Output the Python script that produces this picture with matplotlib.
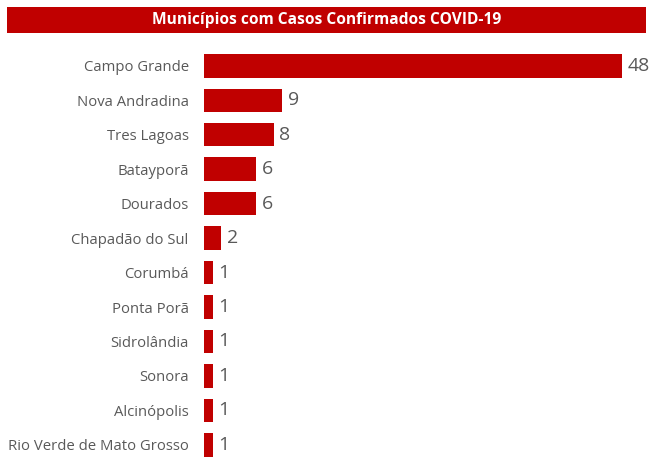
import matplotlib.pyplot as plt
from matplotlib.patches import Rectangle

municipios = ["Campo Grande", "Nova Andradina", "Tres Lagoas", "Batayporã", "Dourados",
              "Chapadão do Sul", "Corumbá", "Ponta Porã", "Sidrolândia", "Sonora",
              "Alcinópolis", "Rio Verde de Mato Grosso"]
casos = [48, 9, 8, 6, 6, 2, 1, 1, 1, 1, 1, 1]
titulo = "Municípios com Casos Confirmados COVID-19"

plt.rcParams['font.family'] = ['Open Sans', 'DejaVu Sans']
red = "#C00000"
gray = "#595959"

fig = plt.figure(figsize=(6.56, 4.72), dpi=100)
ax = fig.add_axes([0.311, 0.021, 0.68, 0.876])

y = list(range(len(municipios)))
ax.barh(y, casos, height=0.68, color=red)
for yi, v in zip(y, casos):
    ax.text(v + 0.6, yi, str(v), va="center", ha="left", fontsize=14, color=gray)

ax.set_ylim(len(municipios) - 0.5, -0.5)
ax.set_xlim(0, 51.2)
ax.set_yticks(y)
ax.set_yticklabels(municipios, fontsize=10.7, color=gray)
ax.tick_params(axis="y", length=0, pad=11)
ax.set_xticks([])
for s in ax.spines.values():
    s.set_visible(False)

# title bar
fig.patches.append(Rectangle((0.0107, 0.930), 0.974, 0.055, transform=fig.transFigure,
                             facecolor=red, edgecolor="none"))
fig.text(0.4977, 0.957, titulo, ha="center", va="center", color="white",
         fontsize=11.2, fontweight="bold")

fig.savefig("out.png", dpi=100)
